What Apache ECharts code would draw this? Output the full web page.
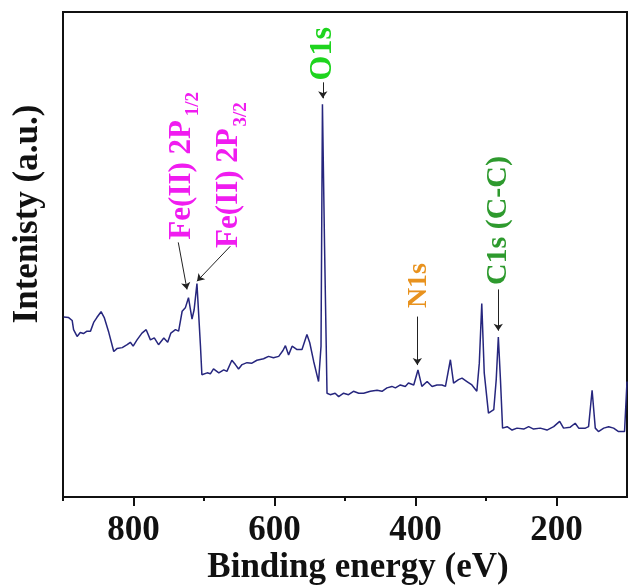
<!DOCTYPE html>
<html>
<head>
<meta charset="utf-8">
<script src="https://cdn.jsdelivr.net/npm/echarts@6.0.0/dist/echarts.min.js"></script>
<style>
  html, body { margin: 0; padding: 0; background: #fff; }
  #chart { width: 628px; height: 587px; }
</style>
</head>
<body>
<div id="chart"></div>
<script>
// survey spectrum (eV, arbitrary intensity 0-100)
const bindingEnergy = [
  899, 892, 887, 885, 880, 875.5, 871, 866, 861, 856.5,
  852, 846, 841.5, 835, 828, 823.5, 816, 809, 804.5, 800.5,
  795, 788, 782, 776, 770.5, 764.5, 757, 751.5, 747, 740.5,
  736, 731, 726.5, 722, 717, 714, 710, 705, 703, 695.5,
  691, 686.5, 679, 672, 667.5, 660.5, 655.5, 651, 646, 639,
  632, 625, 615.5, 608.5, 601.5, 594, 588, 584.5, 580, 575,
  568, 561, 554, 550, 544.5, 537.5, 534, 532, 529, 525.5,
  521, 514, 509, 502, 495, 488, 480.5, 473.5, 464, 454.5,
  447.5, 440.5, 433.5, 428.5, 421.5, 414.5, 410, 402.5, 396.5, 391,
  383.5, 376.5, 369.5, 362.5, 357.5, 350.5, 346, 339, 334, 327,
  320, 313, 309.5, 306, 302.5, 296.5, 289, 285.5, 282.5, 279.5,
  276.5, 270, 263, 256, 246.5, 239.5, 232.5, 223, 213.5, 204,
  195.5, 190, 180.5, 173.5, 168.5, 159, 154.5, 149.5, 145, 140.5,
  133, 126, 119, 112, 103.5, 100
];
const intensity = [
  37.1, 37.0, 36.4, 34.5, 33.1, 33.9, 33.7, 34.2, 34.2, 36.0,
  37.0, 38.2, 37.0, 33.9, 30.0, 30.6, 30.8, 31.4, 31.9, 31.1,
  32.4, 33.8, 34.5, 32.4, 32.8, 31.4, 32.8, 31.9, 33.8, 34.5,
  34.2, 38.3, 39.0, 41.1, 36.7, 38.6, 44.0, 31.1, 25.2, 25.6,
  25.4, 26.4, 25.6, 26.2, 25.9, 28.2, 27.3, 26.4, 27.3, 27.7,
  27.6, 28.2, 28.5, 29.0, 28.7, 29.0, 30.2, 31.2, 29.3, 31.1,
  30.4, 30.4, 33.5, 31.8, 28.0, 23.8, 31.1, 81.0, 51.7, 21.4,
  21.1, 21.4, 20.7, 21.4, 21.1, 21.8, 21.4, 21.4, 21.8, 22.0,
  21.8, 22.5, 22.8, 22.5, 23.1, 22.8, 23.5, 23.1, 26.2, 22.8,
  23.8, 22.8, 23.1, 23.1, 22.8, 28.3, 23.5, 24.2, 24.5, 23.8,
  23.1, 21.8, 27.6, 39.9, 25.6, 17.3, 18.0, 24.2, 33.0, 24.2,
  14.2, 14.5, 13.8, 14.2, 14.0, 14.5, 14.0, 14.2, 13.8, 14.5,
  15.6, 14.2, 14.4, 15.2, 14.2, 14.2, 14.5, 22.0, 14.2, 13.5,
  14.2, 14.5, 14.2, 13.5, 13.5, 23.8
];
const majorTicks = [800, 600, 400, 200];
const minorTicks = [900, 700, 500, 300];

// peak labels; anchors are in data units (eV, intensity)
const peakNames = ['O1s', 'Fe(II) 2P', 'Fe(II) 2P', 'N1s', 'C1s (C-C)'];
const peakSubs = ['', '1/2', '3/2', '', ''];
const annotations = [
  { color: '#1ed41e', size: 32, at: [530.9, 91.4], arrow: [[531.5, 85.5], [531.5, 82.2]] },
  { color: '#f01cf0', size: 31, at: [730.8, 65.4], subAt: [715.2, 81.0], arrow: [[736.5, 52.5], [724.1, 42.8]] },
  { color: '#f01cf0', size: 31, at: [664.0, 63.7], subAt: [647.5, 78.9], arrow: [[662.7, 51.7], [709.9, 44.5]] },
  { color: '#e8921e', size: 28, at: [396.0, 43.6], arrow: [[397.4, 37.2], [397.4, 27.2]] },
  { color: '#2e9a2e', size: 30, at: [282.6, 57.0], arrow: [[282.6, 42.8], [282.6, 34.3]] }
];

const serif = "'Liberation Serif', 'Times New Roman', serif";

const chart = echarts.init(document.getElementById('chart'));

const option = {
  animation: false,
  backgroundColor: '#fff',
  grid: {
    left: 63, right: 1, top: 12, bottom: 90,
    show: true, borderColor: '#111', borderWidth: 2
  },
  xAxis: [
    {
      type: 'value', min: 100, max: 900, interval: 100, inverse: true,
      position: 'bottom',
      axisLine: { show: true, onZero: false, lineStyle: { color: '#111', width: 2 } },
      axisTick: { show: true, customValues: majorTicks, length: 9, lineStyle: { color: '#111', width: 2 } },
      axisLabel: {
        customValues: majorTicks, margin: 16, color: '#111',
        fontSize: 35, fontWeight: 'bold', fontFamily: serif
      },
      splitLine: { show: false }
    },
    {
      type: 'value', min: 100, max: 900, interval: 100, inverse: true,
      position: 'bottom',
      axisLine: { show: false },
      axisTick: { show: true, customValues: minorTicks, length: 4, lineStyle: { color: '#111', width: 2 } },
      axisLabel: { show: false },
      splitLine: { show: false }
    }
  ],
  yAxis: {
    type: 'value', min: 0, max: 100,
    axisLine: { show: true, lineStyle: { color: '#111', width: 2 } },
    axisTick: { show: false },
    axisLabel: { show: false },
    splitLine: { show: false }
  },
  series: [
    {
      type: 'line',
      xAxisIndex: 0,
      showSymbol: false,
      silent: true,
      lineStyle: { color: '#26267e', width: 1.5 },
      data: bindingEnergy.map((e, i) => [e, intensity[i]]),
      markLine: {
        silent: true,
        symbol: ['none', 'arrow'],
        symbolSize: 7,
        label: { show: false },
        lineStyle: { color: '#222', width: 1, type: 'solid' },
        data: annotations.map(a => [{ coord: a.arrow[0] }, { coord: a.arrow[1] }])
      }
    }
  ]
};

chart.setOption(option);

const toPx = p => chart.convertToPixel({ seriesIndex: 0 }, p);

const graphics = [
  {
    type: 'text', x: 358, y: 568,
    style: {
      text: 'Binding energy (eV)', fill: '#111', align: 'center', verticalAlign: 'middle',
      font: `bold 35px ${serif}`
    }
  },
  {
    type: 'text', x: 28, y: 214, rotation: Math.PI / 2,
    style: {
      text: 'Intenisty (a.u.)', fill: '#111', align: 'center', verticalAlign: 'middle',
      font: `bold 35px ${serif}`
    }
  }
];

annotations.forEach((a, i) => {
  const [x, y] = toPx(a.at);
  graphics.push({
    type: 'text', x, y, rotation: Math.PI / 2,
    style: {
      text: peakNames[i], fill: a.color, align: 'center', verticalAlign: 'middle',
      font: `bold ${a.size}px ${serif}`
    }
  });
  if (peakSubs[i]) {
    const [sx, sy] = toPx(a.subAt);
    graphics.push({
      type: 'text', x: sx, y: sy, rotation: Math.PI / 2,
      style: {
        text: peakSubs[i], fill: a.color, align: 'center', verticalAlign: 'middle',
        font: `bold 19px ${serif}`
      }
    });
  }
});

chart.setOption({ graphic: graphics });
</script>
</body>
</html>
